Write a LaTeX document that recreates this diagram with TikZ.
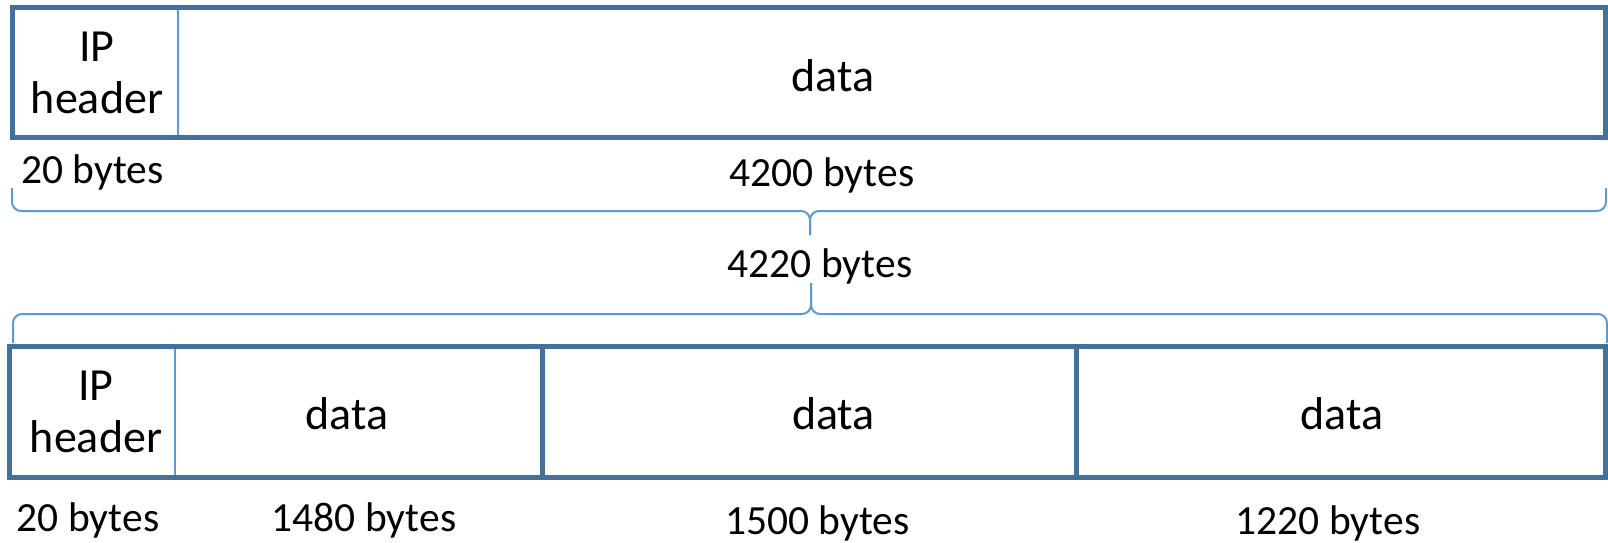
\documentclass[tikz,border=0pt]{standalone}
\usepackage{fontspec}
\setmainfont{Carlito}
\definecolor{framecol}{HTML}{41719C}
\definecolor{accentcol}{HTML}{5B9BD5}
\tikzset{
  framebox/.style={draw=framecol, line width=5pt, inner sep=0pt, outer sep=0pt, anchor=north west},
  thindiv/.style={draw=accentcol, line width=2pt},
  thickdiv/.style={draw=framecol, line width=5pt},
  bracepath/.style={draw=accentcol, line width=2pt, rounded corners=9pt},
  celltext/.style={font=\fontsize{46}{52}\selectfont, inner sep=0pt, align=center},
  sizetext/.style={font=\fontsize{41.5}{48}\selectfont, inner sep=0pt, anchor=base},
}
\begin{document}
\begin{tikzpicture}[x=1pt, y=-1pt]
\useasboundingbox[fill=white] (0,0) rectangle (1608,543);

% original datagram
\draw[thindiv] (178,7.5) -- (178,137.5);
\node[framebox, minimum width=1593.5pt, minimum height=130pt] (orig) at (12,7.5) {};
\node[celltext] (origip) at (97,73) {IP\\header};
\node[celltext, anchor=base] (origdata) at (833,92) {data};
\node[sizetext] (orighdrsize) at (92.5,183) {20 bytes};
\node[sizetext] (origdatasize) at (822,186.5) {4200 bytes};

% brace under the original datagram
\coordinate (b1l) at (12,188);
\coordinate (b1m) at (810,235);
\coordinate (b1r) at (1606,188);
\draw[bracepath] (b1l) -- (12,211) -- (810,211) -- (b1m);
\draw[bracepath] (b1m) -- (810,211) -- (1606,211) -- (b1r);
\node[sizetext] (totalsize) at (820,277) {4220 bytes};

% brace over the fragments
\coordinate (b2l) at (13,343);
\coordinate (b2m) at (811,283);
\coordinate (b2r) at (1607,343);
\draw[bracepath] (b2l) -- (13,314) -- (811,314) -- (b2m);
\draw[bracepath] (b2m) -- (811,314) -- (1607,314) -- (b2r);

% fragmented datagram
\draw[thindiv] (175,346) -- (175,477);
\node[framebox, minimum width=1596.5pt, minimum height=131pt] (frag) at (9,346) {};
\draw[thickdiv] (542,346) -- (542,477);
\draw[thickdiv] (1076,346) -- (1076,477);
\node[celltext] (fragip) at (96,411.5) {IP\\header};
\node[celltext, anchor=base] (fragdataA) at (347,429) {data};
\node[celltext, anchor=base] (fragdataB) at (833.5,429) {data};
\node[celltext, anchor=base] (fragdataC) at (1341.7,429) {data};
\node[sizetext] (fraghdrsize) at (88,531) {20 bytes};
\node[sizetext] (fragsizeA) at (364,531) {1480 bytes};
\node[sizetext] (fragsizeB) at (817.5,534) {1500 bytes};
\node[sizetext] (fragsizeC) at (1328,534) {1220 bytes};
\end{tikzpicture}
\end{document}
